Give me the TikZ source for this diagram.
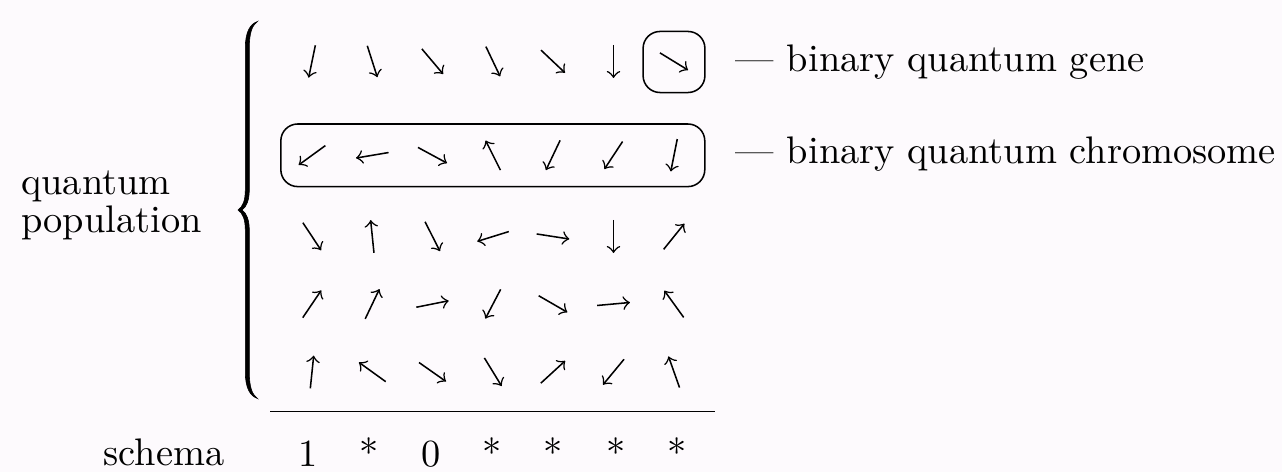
\documentclass[tikz,border=0pt]{standalone}
\usetikzlibrary{calc}
\definecolor{bgc}{RGB}{253,250,253}
\begin{document}
\begin{tikzpicture}[x=0.2604pt,y=-0.2604pt,
  qarrow/.style={->, line width=0.4pt},
  txt/.style={inner sep=0pt, anchor=base west},
  sym/.style={inner sep=0pt, anchor=base},
  qbox/.style={draw, rounded corners=4.4pt, inner sep=0pt},
  bracefill/.style={fill=black, draw=black, line width=0.15pt}]
\fill[bgc] (0,0) rectangle (1282,472);
\useasboundingbox (0,0) rectangle (1282,472);
% left label
\node[txt] (q1) at (20.6,195) {quantum};
\node[txt] (q2) at (20.6,232.7) {population};
% brace (filled shape, thick stem, thin ends)
\path[bracefill] (257.5,21.5)
  .. controls (250,24) and (245.3,32) .. (245.3,48)
  -- (245.3,190)
  .. controls (245.3,201) and (242.5,207) .. (238,210)
  .. controls (242.5,213) and (245.3,219) .. (245.3,230)
  -- (245.3,372)
  .. controls (245.3,388) and (250,396) .. (257.5,398.5)
  .. controls (252,394.5) and (249.3,387) .. (249.3,372)
  -- (249.3,230)
  .. controls (249.3,220) and (246.5,213) .. (242,210)
  .. controls (246.5,207) and (249.3,200) .. (249.3,190)
  -- (249.3,48)
  .. controls (249.3,33) and (252,25.5) .. (257.5,21.5) -- cycle;
% arrows
\def\colx{{312,372.3,432.5,493,553,613.5,674}}
\foreach \r/\yy/\angs in {
  1/61.5/{-101.7,-72.3,-49.8,-64.5,-43.4,-90,-31.5},
  2/155.3/{216,189.6,-28.4,116.6,244.5,236.6,258.7},
  3/236.5/{-56.5,95.8,-63.2,197.3,-8.8,-90,51.1},
  4/304/{55.9,64.5,11.3,242.4,-30,5.2,125.8},
  5/372/{84.1,144.2,-35.1,-58.5,42.5,230.4,109.5}}{
  \foreach \a [count=\c] in \angs {
    \pgfmathsetmacro\xx{\colx[\c-1]}
    \pgfmathsetmacro\b{\a+180}
    \coordinate (c\r\c) at (\xx,\yy);
    \draw[qarrow] ([shift={(\b:4.3pt)}]c\r\c) -- ([shift={(\a:4.3pt)}]c\r\c);
  }
}
% boxes
\node[qbox, minimum width=16.1pt, minimum height=15.9pt] (gene) at (674,62) {};
\node[qbox, minimum width=110.4pt, minimum height=16.3pt] (chrom) at (492.8,155.3) {};
% labels
\node[txt] (lgene) at (735,71.7) {--- binary quantum gene};
\node[txt] (lchrom) at (735,163.3) {--- binary quantum chromosome};
% rule
\coordinate (ruleL) at (270,411.7);
\coordinate (ruleR) at (715,411.7);
\draw (ruleL) -- (ruleR);
% schema
\node[txt] (schema) at (103,465.5) {schema};
\foreach \s/\x [count=\i] in {1/307.7,{*}/369.3,0/431,{*}/492.3,{*}/553.3,{*}/615.7,{*}/676.7}{
  \node[sym] (s\i) at (\x,466.7) {\s};
}
\end{tikzpicture}
\end{document}
